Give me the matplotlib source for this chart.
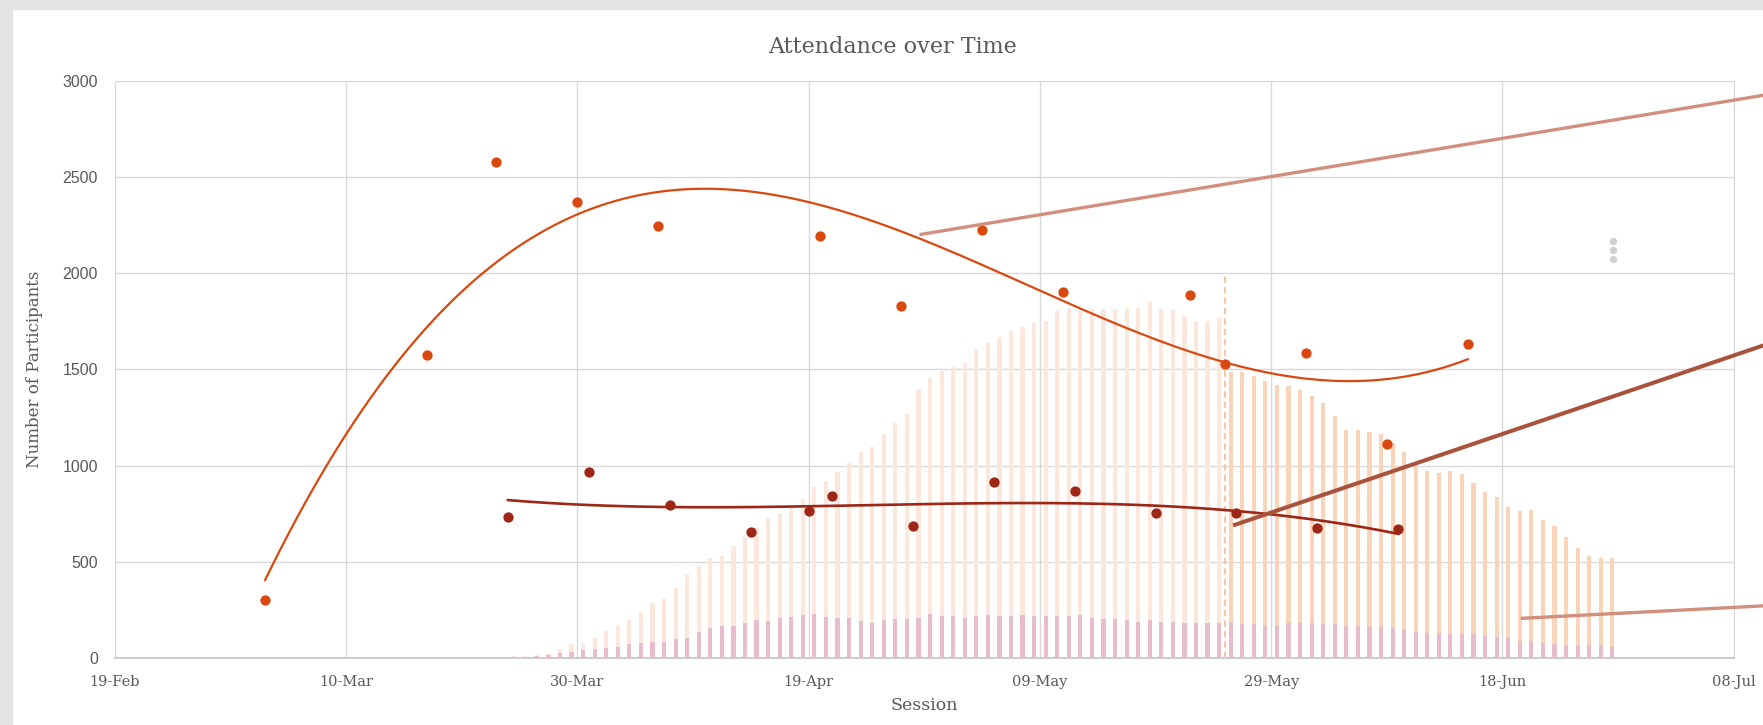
import numpy as np
import pandas as pd
import matplotlib
matplotlib.use("Agg")
import matplotlib.pyplot as plt
import matplotlib.dates as mdates
from matplotlib.patches import Rectangle

# weekly points (orange) and second weekly series (dark red)
orange_dates = ["2020-03-03", "2020-03-17", "2020-03-23", "2020-03-30", "2020-04-06",
                "2020-04-20", "2020-04-27", "2020-05-04", "2020-05-11", "2020-05-22",
                "2020-05-25", "2020-06-01", "2020-06-08", "2020-06-15"]
orange_vals = [302, 1572, 2579, 2370, 2243, 2194, 1830, 2223, 1902, 1888, 1527, 1586, 1111, 1633]

red_dates = ["2020-03-24", "2020-03-31", "2020-04-07", "2020-04-14", "2020-04-19",
             "2020-04-21", "2020-04-28", "2020-05-05", "2020-05-12", "2020-05-19",
             "2020-05-26", "2020-06-02", "2020-06-09"]
red_vals = [735, 966, 794, 657, 764, 842, 688, 915, 868, 756, 756, 678, 669]

# daily bars, 20-Mar to 27-Jun
bar_first = "2020-03-20"
peach_vals = [4, 5, 6, 6, 8, 10,
              15, 19, 45, 71, 80, 106, 142, 168, 198, 237, 288, 307, 362, 437, 480, 522, 529,
              584, 631, 674, 726,
              752, 778, 825, 887, 922, 969, 1012, 1068, 1095, 1163, 1220, 1267, 1399, 1454,
              1494, 1510, 1532, 1607, 1636, 1667, 1697, 1718, 1740, 1752, 1804, 1818,
              1801, 1813, 1813, 1813, 1821, 1821, 1852, 1813, 1806, 1778, 1752, 1752, 1766,
              1488, 1488, 1468, 1442, 1419, 1411, 1393, 1364, 1324, 1255, 1185, 1185, 1172,
              1165,
              1116, 1068, 1012, 972, 963, 972, 957, 907, 865, 839, 783, 764, 769, 717, 686,
              631, 570, 530, 522, 522]
pink_vals = [2, 3, 3, 4, 5, 6,
             12, 15, 24, 33, 40, 47, 54, 59, 71, 80, 85, 85, 99, 106, 137, 154, 166, 168,
             184, 198, 194,
             206, 215, 224, 229, 215, 210, 210, 194, 184, 198, 203, 203, 210, 231, 217, 217,
             210, 217, 224, 217, 217, 224, 217, 217, 217, 217,
             224, 210, 203, 203, 198, 189, 198, 189, 189, 184, 184, 184, 184,
             185, 175, 175, 168, 168, 184, 184, 184, 175, 175, 168, 168, 163,
             163,
             154, 149, 137, 128, 128, 123, 123, 123, 114, 107, 107, 88, 88, 80, 73, 66, 66,
             66, 66, 59]
marker_date = "2020-05-25"

# straight strokes running off to the right
strokes = [
    (("2020-04-28 14:00", 2200), ("2020-07-18", 2998), "#d38f7d", 2.4),
    (("2020-05-25 17:00", 689), ("2020-07-18", 1776), "#a9523c", 2.9),
    (("2020-06-19 14:00", 206), ("2020-07-18", 294), "#d38f7d", 2.4),
]
dots_date = "2020-06-27 13:00"
dots_vals = [2168, 2121, 2075]

x_start, x_end = "2020-02-19", "2020-07-08"

txt = "#595959"
serif = "DejaVu Serif"

fig = plt.figure(figsize=(17.63, 7.25), dpi=100)
fig.patches.append(Rectangle((0, 1 - 9 / 725), 1, 9 / 725, transform=fig.transFigure,
                             color="#e3e3e1", zorder=0))
fig.patches.append(Rectangle((0, 0), 12 / 1763, 1, transform=fig.transFigure,
                             color="#e3e3e1", zorder=0))
ax = fig.add_axes([0.0651, 0.0924, 0.9183, 0.7963])

d2n = lambda s: mdates.date2num(pd.to_datetime(s))

bar_days = pd.date_range(bar_first, periods=len(peach_vals), freq="D")
bx = mdates.date2num(bar_days) + 0.5
cut = d2n(marker_date)
peach_cols = ["#fbe7dc" if x < cut else "#f9d4b8" for x in bx]
ax.bar(bx, peach_vals, width=0.36, color=peach_cols, zorder=2)
ax.bar(bx, pink_vals, width=0.36, color="#e8bccb", zorder=3)

ax.plot([cut, cut], [0, 2000], color="#f7c6a4", lw=1.5, ls=(0, (3, 2)), zorder=4)

ox = d2n(orange_dates)
rx = d2n(red_dates)
x0 = d2n(x_start)
for xs, ys, col, lw in [(ox, orange_vals, "#d9480f", 1.6), (rx, red_vals, "#9e2616", 1.9)]:
    coef = np.polyfit(xs - x0, ys, 3)
    t = np.linspace(xs.min(), xs.max(), 300)
    ax.plot(t, np.polyval(coef, t - x0), color=col, lw=lw, zorder=5)
    ax.scatter(xs, ys, s=55, color=col, zorder=6, linewidths=0)

for (a, b, col, lw) in strokes:
    ax.plot([d2n(a[0]), d2n(b[0])], [a[1], b[1]], color=col, lw=lw, zorder=7,
            clip_on=False, solid_capstyle="butt")

ax.scatter([d2n(dots_date)] * 3, dots_vals, s=28, color="#d0d0d0", zorder=7, linewidths=0)

ax.set_xlim(d2n(x_start), d2n(x_end))
ax.set_ylim(0, 3000)
ax.set_xticks(mdates.date2num(pd.date_range(x_start, x_end, freq="20D")))
ax.xaxis.set_major_formatter(mdates.DateFormatter("%d-%b"))
ax.set_yticks(range(0, 3001, 500))
ax.grid(True, color="#d9d9d9", lw=1)
ax.set_axisbelow(True)
for s in ["left", "top", "right"]:
    ax.spines[s].set_color("#d9d9d9")
ax.spines["bottom"].set_color("#c4c4c4")
ax.spines["bottom"].set_linewidth(1.2)
ax.tick_params(length=0)
ax.tick_params(axis="x", pad=12, labelcolor=txt)
ax.tick_params(axis="y", pad=12, labelcolor=txt)
for lab in ax.get_xticklabels():
    lab.set_fontfamily(serif)
    lab.set_fontsize(10.5)
for lab in ax.get_yticklabels():
    lab.set_fontfamily("Liberation Sans")
    lab.set_fontsize(11.5)

ax.set_xlabel("Session", family=serif, fontsize=12.5, color=txt, labelpad=6)
ax.set_ylabel("Number of Participants", family=serif, fontsize=12, color=txt, labelpad=14)
fig.text(0.506, 0.935, "Attendance over Time", family=serif, fontsize=16, color=txt,
         ha="center", va="center")

fig.savefig("out.png", dpi=100, facecolor="white")
